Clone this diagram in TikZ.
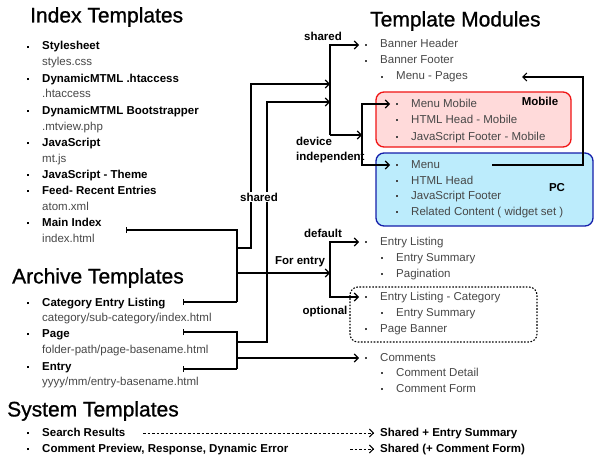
\documentclass[tikz,border=0pt]{standalone}
\usepackage{fontspec}
\setmainfont{Liberation Sans}
\newfontfamily\headfont{Liberation Sans}[FakeBold=0.9]
\usetikzlibrary{arrows.meta}
\definecolor{mobfill}{RGB}{255,218,218}
\definecolor{mobline}{RGB}{240,20,20}
\definecolor{pcfill}{RGB}{188,236,252}
\definecolor{pcline}{RGB}{20,30,170}
\newcommand{\dotmark}{\makebox[15pt][l]{\rule[0.3ex]{1.8pt}{1.8pt}}}

\begin{document}
\begin{tikzpicture}[x=1pt, y=-1pt,
    title/.style={anchor=west, inner sep=0pt, font=\headfont\fontsize{21}{21}\selectfont},
    entry/.style={anchor=west, inner xsep=6pt, inner ysep=0pt, text height=8.5pt,
        text depth=2.5pt, font=\fontsize{11.5}{13}\selectfont\bfseries},
    file/.style={entry, font=\fontsize{11.5}{13}\selectfont, text=black!72},
    tag/.style={inner sep=1pt, font=\fontsize{11.5}{15}\selectfont\bfseries},
    wire/.style={line width=1.1pt},
    link/.style={wire, -{Straight Barb[length=4pt,width=8pt]}},
    fromtick/.style={wire, {Bar[width=6pt]}-},
    later/.style={link, line width=0.9pt, dash pattern=on 2.5pt off 2pt},
]
    \useasboundingbox (0,0) rectangle (600,460);

    % boxes behind the module lists
    \draw[mobline, fill=mobfill, line width=1.3pt, rounded corners=8pt] (376,92) rectangle (571,147);
    \draw[pcline, fill=pcfill, line width=1.3pt, rounded corners=8pt] (376,153) rectangle (593,226);
    \draw[wire, dash pattern=on 1.6pt off 1.6pt, rounded corners=8pt] (350,287) rectangle (537,342);
    \node[tag] (mobT) at (540,101) {Mobile};
    \node[tag] (pcT) at (557,188) {PC};

    % index templates
    \node[title] (idxT) at (30,17) {Index Templates};
    \node[entry] (css) at (21,47) {\dotmark Stylesheet};
    \node[file] (cssF) at (36,63) {styles.css};
    \node[entry] (hta) at (21,79) {\dotmark DynamicMTML .htaccess};
    \node[file] (htaF) at (36,95) {.htaccess};
    \node[entry] (boot) at (21,111) {\dotmark DynamicMTML Bootstrapper};
    \node[file] (bootF) at (36,127) {.mtview.php};
    \node[entry] (js) at (21,143) {\dotmark JavaScript};
    \node[file] (jsF) at (36,159) {mt.js};
    \node[entry] (jsT) at (21,175) {\dotmark JavaScript - Theme};
    \node[entry] (feed) at (21,191) {\dotmark Feed- Recent Entries};
    \node[file] (feedF) at (36,207) {atom.xml};
    \node[entry] (main) at (21,223) {\dotmark Main Index};
    \node[file] (mainF) at (36,239) {index.html};

    % archive templates
    \node[title] (arcT) at (12,278) {Archive Templates};
    \node[entry] (cat) at (21,303) {\dotmark Category Entry Listing};
    \node[file] (catF) at (36,318) {category/sub-category/index.html};
    \node[entry] (page) at (21,334) {\dotmark Page};
    \node[file] (pageF) at (36,350) {folder-path/page-basename.html};
    \node[entry] (ent) at (21,367) {\dotmark Entry};
    \node[file] (entF) at (36,382) {yyyy/mm/entry-basename.html};

    % system templates
    \node[title] (sysT) at (7,411) {System Templates};
    \node[entry] (sr) at (21,433) {\dotmark Search Results};
    \node[entry] (cp) at (21,449) {\dotmark Comment Preview, Response, Dynamic Error};

    % template modules
    \node[title] (modT) at (370,21) {Template Modules};
    \node[file] (bh) at (359,45) {\dotmark Banner Header};
    \node[file] (bf) at (359,61) {\dotmark Banner Footer};
    \node[file] (mp) at (375,77) {\dotmark Menu - Pages};
    \node[file] (mm) at (390,104) {\dotmark Menu Mobile};
    \node[file] (hhm) at (390,120) {\dotmark HTML Head - Mobile};
    \node[file] (jfm) at (390,137) {\dotmark JavaScript Footer - Mobile};
    \node[file] (menu) at (390,165) {\dotmark Menu};
    \node[file] (hh) at (390,181) {\dotmark HTML Head};
    \node[file] (jf) at (390,196) {\dotmark JavaScript Footer};
    \node[file] (rc) at (390,212) {\dotmark Related Content ( widget set )};
    \node[file] (el) at (359,242) {\dotmark Entry Listing};
    \node[file] (es) at (375,258) {\dotmark Entry Summary};
    \node[file] (pag) at (375,274) {\dotmark Pagination};
    \node[file] (elc) at (359,297) {\dotmark Entry Listing - Category};
    \node[file] (esc) at (375,313) {\dotmark Entry Summary};
    \node[file] (pb) at (359,329) {\dotmark Page Banner};
    \node[file] (com) at (359,358) {\dotmark Comments};
    \node[file] (cd) at (375,373) {\dotmark Comment Detail};
    \node[file] (cf) at (375,389) {\dotmark Comment Form};
    \node[entry] (ses) at (374,433) {Shared + Entry Summary};
    \node[entry] (scf) at (374,449) {Shared (+ Comment Form)};

    % junctions
    \coordinate (tMain) at (126,230);
    \coordinate (tCat) at (183,302);
    \coordinate (tPage) at (183,332);
    \coordinate (tEnt) at (183,369);
    \coordinate (jA) at (237,302);
    \coordinate (jAs) at (237,248);
    \coordinate (jAf) at (237,273);
    \coordinate (jB) at (237,369);
    \coordinate (jBs) at (237,342);
    \coordinate (jBc) at (237,358);
    \coordinate (sIn1) at (330,84);
    \coordinate (sIn2) at (330,102);
    \coordinate (sBus) at (330,135);
    \coordinate (dBus) at (362,135);
    \coordinate (fBus) at (330,273);
    \coordinate (menuOut) at (492,165);
    \coordinate (pagesIn) at (522,77);
    \coordinate (srOut) at (143,433);
    \coordinate (cpOut) at (350,449);

    \draw[fromtick] (tMain) -| (jA);
    \draw[fromtick] (tCat) -- (jA);
    \draw[link] (jAs) -- ++(14,0) |- (sIn1);
    \draw[link] (jAf) -- (fBus);
    \draw[fromtick] (tPage) -| (jB);
    \draw[fromtick] (tEnt) -- (jB);
    \draw[link] (jBs) -- ++(30,0) |- (sIn2);
    \draw[link] (jBc) -- (com.west);

    \draw[link] (sBus) |- (bh.west);
    \draw[link] (sBus) -- (dBus);
    \draw[link] (dBus) |- (mm.west);
    \draw[link] (dBus) |- (menu.west);
    \draw[link] (menuOut) -- ++(91,0) |- (pagesIn);
    \draw[link] (fBus) |- (el.west);
    \draw[link] (fBus) |- (elc.west);

    \draw[later] (srOut) -- (srOut -| ses.west);
    \draw[later] (cpOut) -- (cpOut -| scf.west);

    % connector labels
    \node[tag] (lShared) at (323,36) {shared};
    \node[tag, align=left, anchor=west] (lDev) at (295,150) {device\\independent};
    \node[tag, fill=white] (lMid) at (259,197) {shared};
    \node[tag] (lDef) at (323,233) {default};
    \node[tag] (lFor) at (300,262) {For entry};
    \node[tag] (lOpt) at (325,312) {optional};
\end{tikzpicture}
\end{document}
